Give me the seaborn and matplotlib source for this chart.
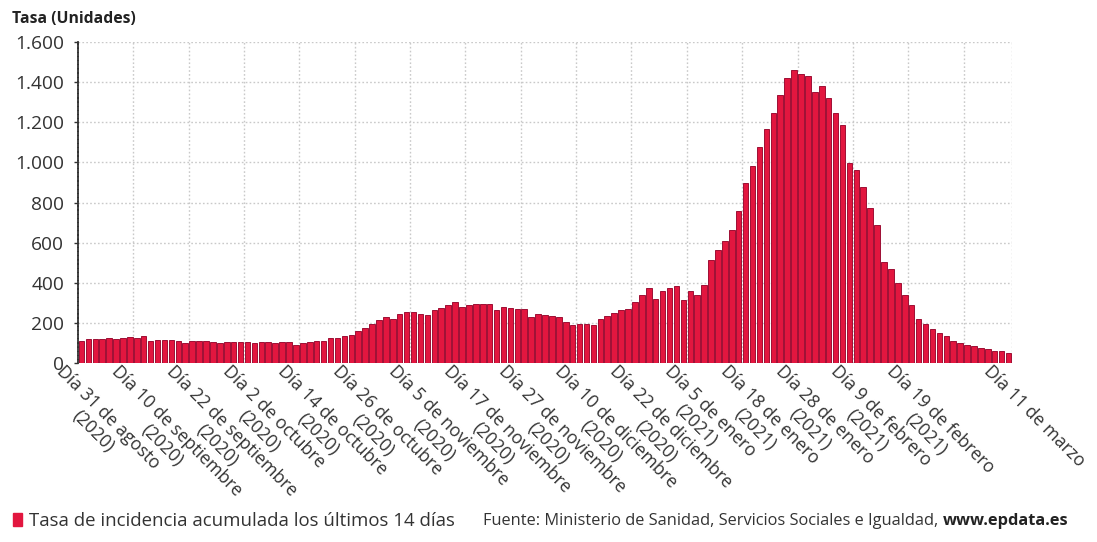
import matplotlib
matplotlib.use("Agg")
import matplotlib.pyplot as plt
import matplotlib.transforms as mtransforms
from matplotlib.patches import Patch
from matplotlib.ticker import FuncFormatter, FixedLocator
import pandas as pd
import seaborn as sns

# Tasa de incidencia acumulada a 14 días, un valor por día de informe
incidencia = [
    108, 119, 121, 121, 126, 121, 124, 129, 126, 133,
    108, 116, 114, 113, 111, 100, 110, 110, 110, 106,
    100, 103, 103, 103, 103, 100, 103, 103, 100, 103,
    103, 91, 100, 103, 108, 111, 124, 124, 133, 141,
    158, 174, 196, 213, 227, 220, 243, 254, 253, 244,
    241, 266, 274, 291, 305, 277, 290, 293, 293, 293,
    262, 277, 274, 271, 268, 228, 243, 239, 233, 229,
    203, 191, 196, 196, 188, 218, 235, 249, 265, 269,
    302, 340, 374, 319, 360, 372, 385, 316, 360, 340,
    388, 513, 563, 606, 665, 756, 895, 980, 1075, 1165,
    1246, 1338, 1421, 1459, 1440, 1429, 1352, 1381, 1323, 1245,
    1188, 997, 964, 877, 772, 686, 505, 470, 400, 340,
    290, 220, 196, 170, 150, 133, 110, 100, 91, 83,
    75, 70, 62, 58, 52,
]

tick_dias = [0, 8, 16, 24, 32, 40, 48, 56, 64, 72, 80, 88, 96, 104, 112, 120, 134]
tick_textos = [
    "Día 31 de agosto\n(2020)",
    "Día 10 de septiembre\n(2020)",
    "Día 22 de septiembre\n(2020)",
    "Día 2 de octubre\n(2020)",
    "Día 14 de octubre\n(2020)",
    "Día 26 de octubre\n(2020)",
    "Día 5 de noviembre\n(2020)",
    "Día 17 de noviembre\n(2020)",
    "Día 27 de noviembre\n(2020)",
    "Día 10 de diciembre\n(2020)",
    "Día 22 de diciembre\n(2020)",
    "Día 5 de enero\n(2021)",
    "Día 18 de enero\n(2021)",
    "Día 28 de enero\n(2021)",
    "Día 9 de febrero\n(2021)",
    "Día 19 de febrero\n(2021)",
    "Día 11 de marzo",
]

titulo_eje = "Tasa (Unidades)"
nombre_serie = "Tasa de incidencia acumulada los últimos 14 días"
fuente = "Fuente: Ministerio de Sanidad, Servicios Sociales e Igualdad, "
web = "www.epdata.es"

ROJO = "#e2163f"
BORDE = "#9e0f34"
TEXTO = "#333333"
REJILLA = "#c9c9c9"

sns.set_theme(style="white")
plt.rcParams["font.family"] = ["Open Sans", "DejaVu Sans"]

W, H = 1097, 542
fig = plt.figure(figsize=(W / 100, H / 100), dpi=100)
ax = fig.add_axes([78 / W, 1 - 363 / H, (1012 - 78) / W, (363 - 42) / H])

df = pd.DataFrame({"dia": list(range(len(incidencia))), "tasa": incidencia})
sns.barplot(data=df, x="dia", y="tasa", color=ROJO, saturation=1, width=0.8,
            edgecolor=BORDE, linewidth=0.7, ax=ax, zorder=3)

n = len(incidencia)
ax.set_xlim(-0.5, n - 0.5)
ax.set_ylim(0, 1600)
ax.set_xlabel("")
ax.set_ylabel("")

# rejilla punteada
ax.set_axisbelow(True)
ax.yaxis.set_major_locator(FixedLocator(range(0, 1601, 200)))
ax.yaxis.set_major_formatter(FuncFormatter(lambda v, _: f"{int(v):,}".replace(",", ".")))
ax.grid(axis="y", which="major", color=REJILLA, linestyle=(0, (1.2, 1.6)), linewidth=1.0)
ax.xaxis.set_minor_locator(FixedLocator([k - 0.5 for k in range(8, 129, 8)] + [n - 0.5]))
ax.grid(axis="x", which="minor", color=REJILLA, linestyle=(0, (1.2, 1.6)), linewidth=1.0)

for s in ["top", "right", "bottom"]:
    ax.spines[s].set_visible(False)
ax.spines["left"].set_color("#333333")
ax.spines["left"].set_linewidth(1.3)
ax.spines["left"].set_linestyle((0, (1.5, 0.8)))

ax.tick_params(axis="y", length=3, width=1, color="#333333", pad=7,
               labelsize=13.8, labelcolor=TEXTO, left=True)
ax.tick_params(axis="x", which="both", length=0, pad=0)

ax.set_xticks(tick_dias)
ax.set_xticklabels(tick_textos, fontsize=12.8, color=TEXTO)
desplaza = mtransforms.ScaledTranslation(-16 / 100, 1 / 100, fig.dpi_scale_trans)
for lab in ax.get_xticklabels():
    lab.set_rotation(-45)
    lab.set_rotation_mode("anchor")
    lab.set_ha("left")
    lab.set_va("top")
    lab.set_multialignment("center")
    lab.set_linespacing(1.2)
    lab.set_transform(lab.get_transform() + desplaza)

fig.text(12 / W, 1 - 19 / H, titulo_eje, fontsize=11.3, fontweight="bold",
         color="#222222", ha="left", va="center")

# leyenda y fuente
fig.legend(handles=[Patch(facecolor=ROJO, edgecolor=ROJO)], labels=[nombre_serie],
           loc="center left", bbox_to_anchor=(13 / W, 1 - 521 / H), frameon=False,
           handlelength=0.5, handleheight=0.75, handletextpad=0.35,
           fontsize=13.4, labelcolor=TEXTO, borderaxespad=0, borderpad=0)
t_fuente = fig.text(483 / W, 1 - 521 / H, fuente, fontsize=11.8, color=TEXTO,
                    ha="left", va="center")
fig.canvas.draw()
bb = t_fuente.get_window_extent()
fig.text(bb.x1 / W, 1 - 521 / H, web, fontsize=11.8, color="#222222",
         fontweight="bold", ha="left", va="center")

fig.savefig("out.png", dpi=100, facecolor="white")
